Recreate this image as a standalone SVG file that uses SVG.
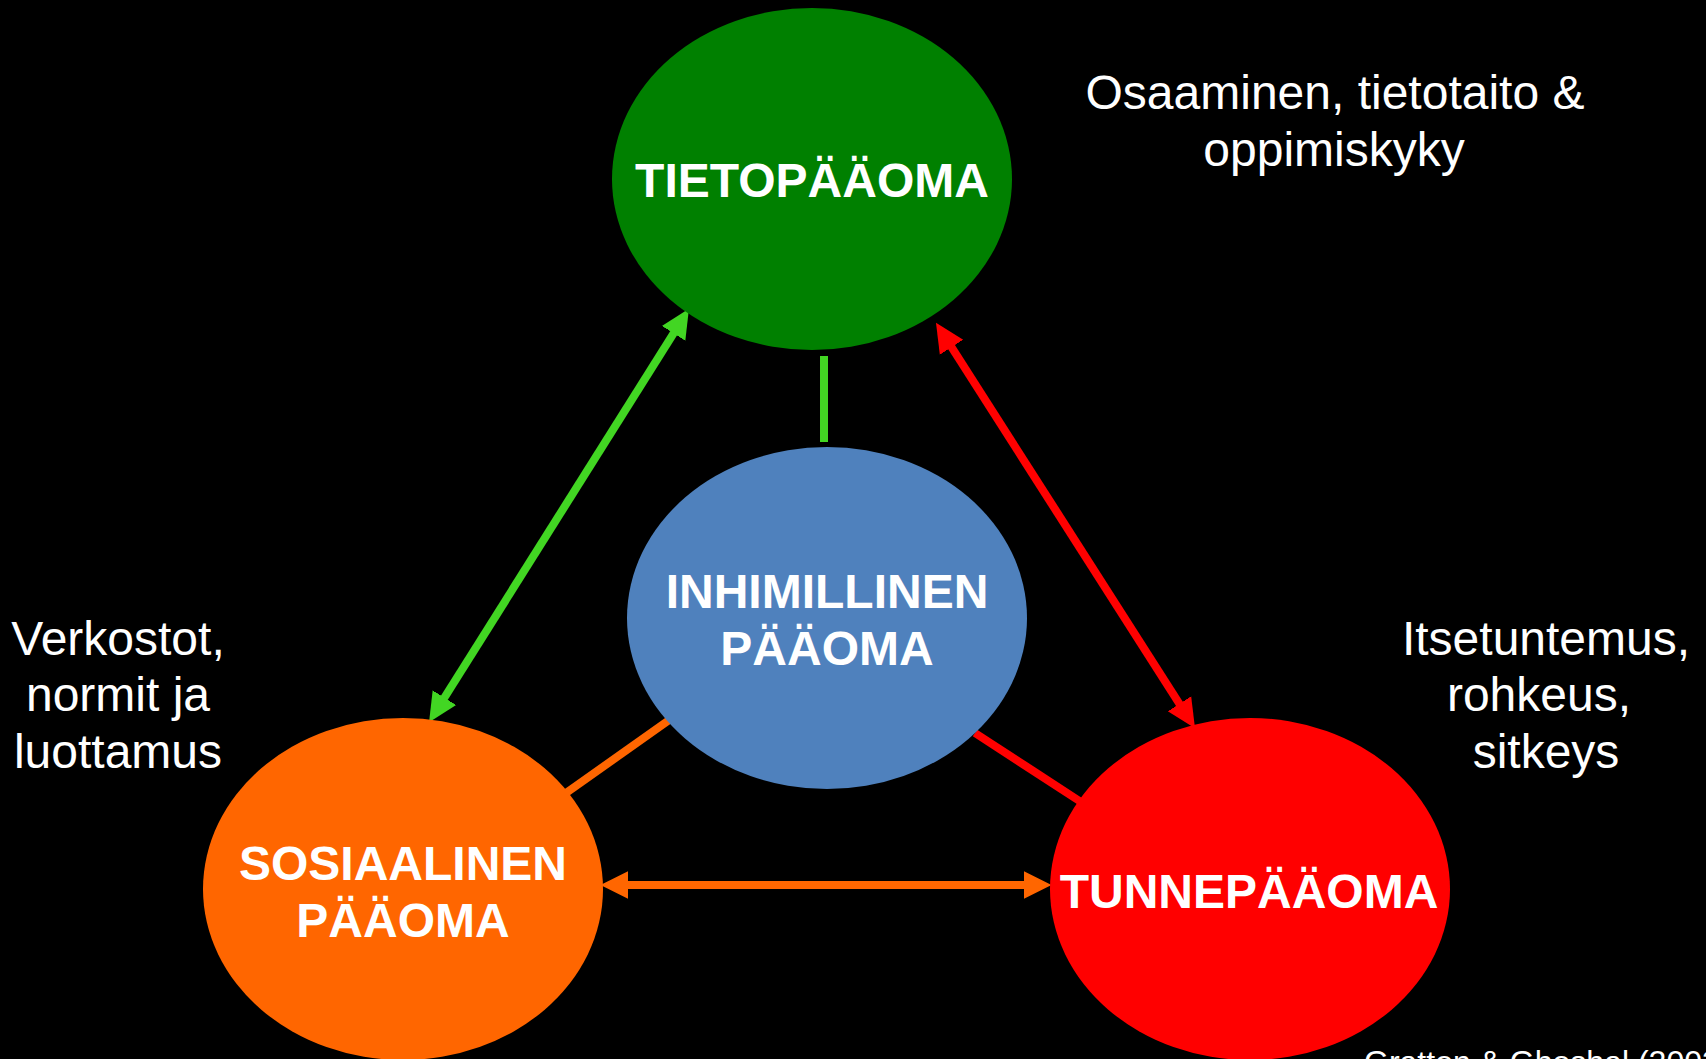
<svg xmlns="http://www.w3.org/2000/svg" width="1706" height="1059" viewBox="0 0 1706 1059">
<defs>
<style>
.lbl{font-family:"Liberation Sans",Arial,sans-serif;font-weight:bold;font-size:48px;fill:#fff;text-anchor:middle}
.note{font-family:"Liberation Sans",Arial,sans-serif;font-size:48px;fill:#fff;text-anchor:middle}
.src{font-family:"Liberation Sans",Arial,sans-serif;font-size:32px;fill:#fff}
.conn{stroke-width:8;fill:none}
</style>
<marker id="ahG" markerUnits="userSpaceOnUse" markerWidth="30" markerHeight="30" viewBox="0 -13 26 26" refX="1" refY="0" orient="auto-start-reverse"><path d="M0,-12 L25,0 L0,12 z" fill="#42D623"/></marker>
<marker id="ahR" markerUnits="userSpaceOnUse" markerWidth="30" markerHeight="30" viewBox="0 -13 26 26" refX="1" refY="0" orient="auto-start-reverse"><path d="M0,-12 L25,0 L0,12 z" fill="#FF0000"/></marker>
<marker id="ahO" markerUnits="userSpaceOnUse" markerWidth="30" markerHeight="30" viewBox="0 -13 26 26" refX="1" refY="0" orient="auto-start-reverse"><path d="M0,-12 L24,0 L0,12 z" fill="#FF6600"/></marker>
</defs>
<rect width="1706" height="1059" fill="#000"/>
<g id="connectors">
<line class="conn" x1="824" y1="356" x2="824" y2="442" stroke="#42D623"/>
<line class="conn" x1="672" y1="718" x2="566" y2="793" stroke="#FF6600"/>
<line class="conn" x1="975" y1="733" x2="1081" y2="802" stroke="#FF0000"/>
<line class="conn" x1="674.2" y1="332.3" x2="443.8" y2="698.7" stroke="#42D623" marker-start="url(#ahG)" marker-end="url(#ahG)"/>
<line class="conn" x1="950.9" y1="346.2" x2="1180.1" y2="704.8" stroke="#FF0000" marker-start="url(#ahR)" marker-end="url(#ahR)"/>
<line class="conn" x1="627" y1="885" x2="1025" y2="885" stroke="#FF6600" marker-start="url(#ahO)" marker-end="url(#ahO)"/>
</g>
<g id="tietopaaoma">
<ellipse cx="812" cy="179" rx="200" ry="171" fill="#008000"/>
<text class="lbl" x="812" y="197">TIETOPÄÄOMA</text>
</g>
<g id="inhimillinen">
<ellipse cx="827" cy="618" rx="200" ry="171" fill="#4F81BD"/>
<text class="lbl" x="827" y="608">INHIMILLINEN</text>
<text class="lbl" x="827" y="665">PÄÄOMA</text>
</g>
<g id="sosiaalinen">
<ellipse cx="403" cy="889" rx="200" ry="171" fill="#FF6600"/>
<text class="lbl" x="403" y="880">SOSIAALINEN</text>
<text class="lbl" x="403" y="937">PÄÄOMA</text>
</g>
<g id="tunnepaaoma">
<ellipse cx="1250" cy="889" rx="200" ry="171" fill="#FF0000"/>
<text class="lbl" x="1249" y="908">TUNNEPÄÄOMA</text>
</g>
<g id="notes">
<text class="note" x="1335" y="109">Osaaminen, tietotaito &amp;</text>
<text class="note" x="1334" y="166">oppimiskyky</text>
<text class="note" x="118" y="655">Verkostot,</text>
<text class="note" x="118" y="711">normit ja</text>
<text class="note" x="118" y="768">luottamus</text>
<text class="note" x="1546" y="655">Itsetuntemus,</text>
<text class="note" x="1539" y="711">rohkeus,</text>
<text class="note" x="1546" y="768">sitkeys</text>
<text class="src" x="1364" y="1073">Gratton &amp; Ghoshal (2003)</text>
</g>
</svg>
